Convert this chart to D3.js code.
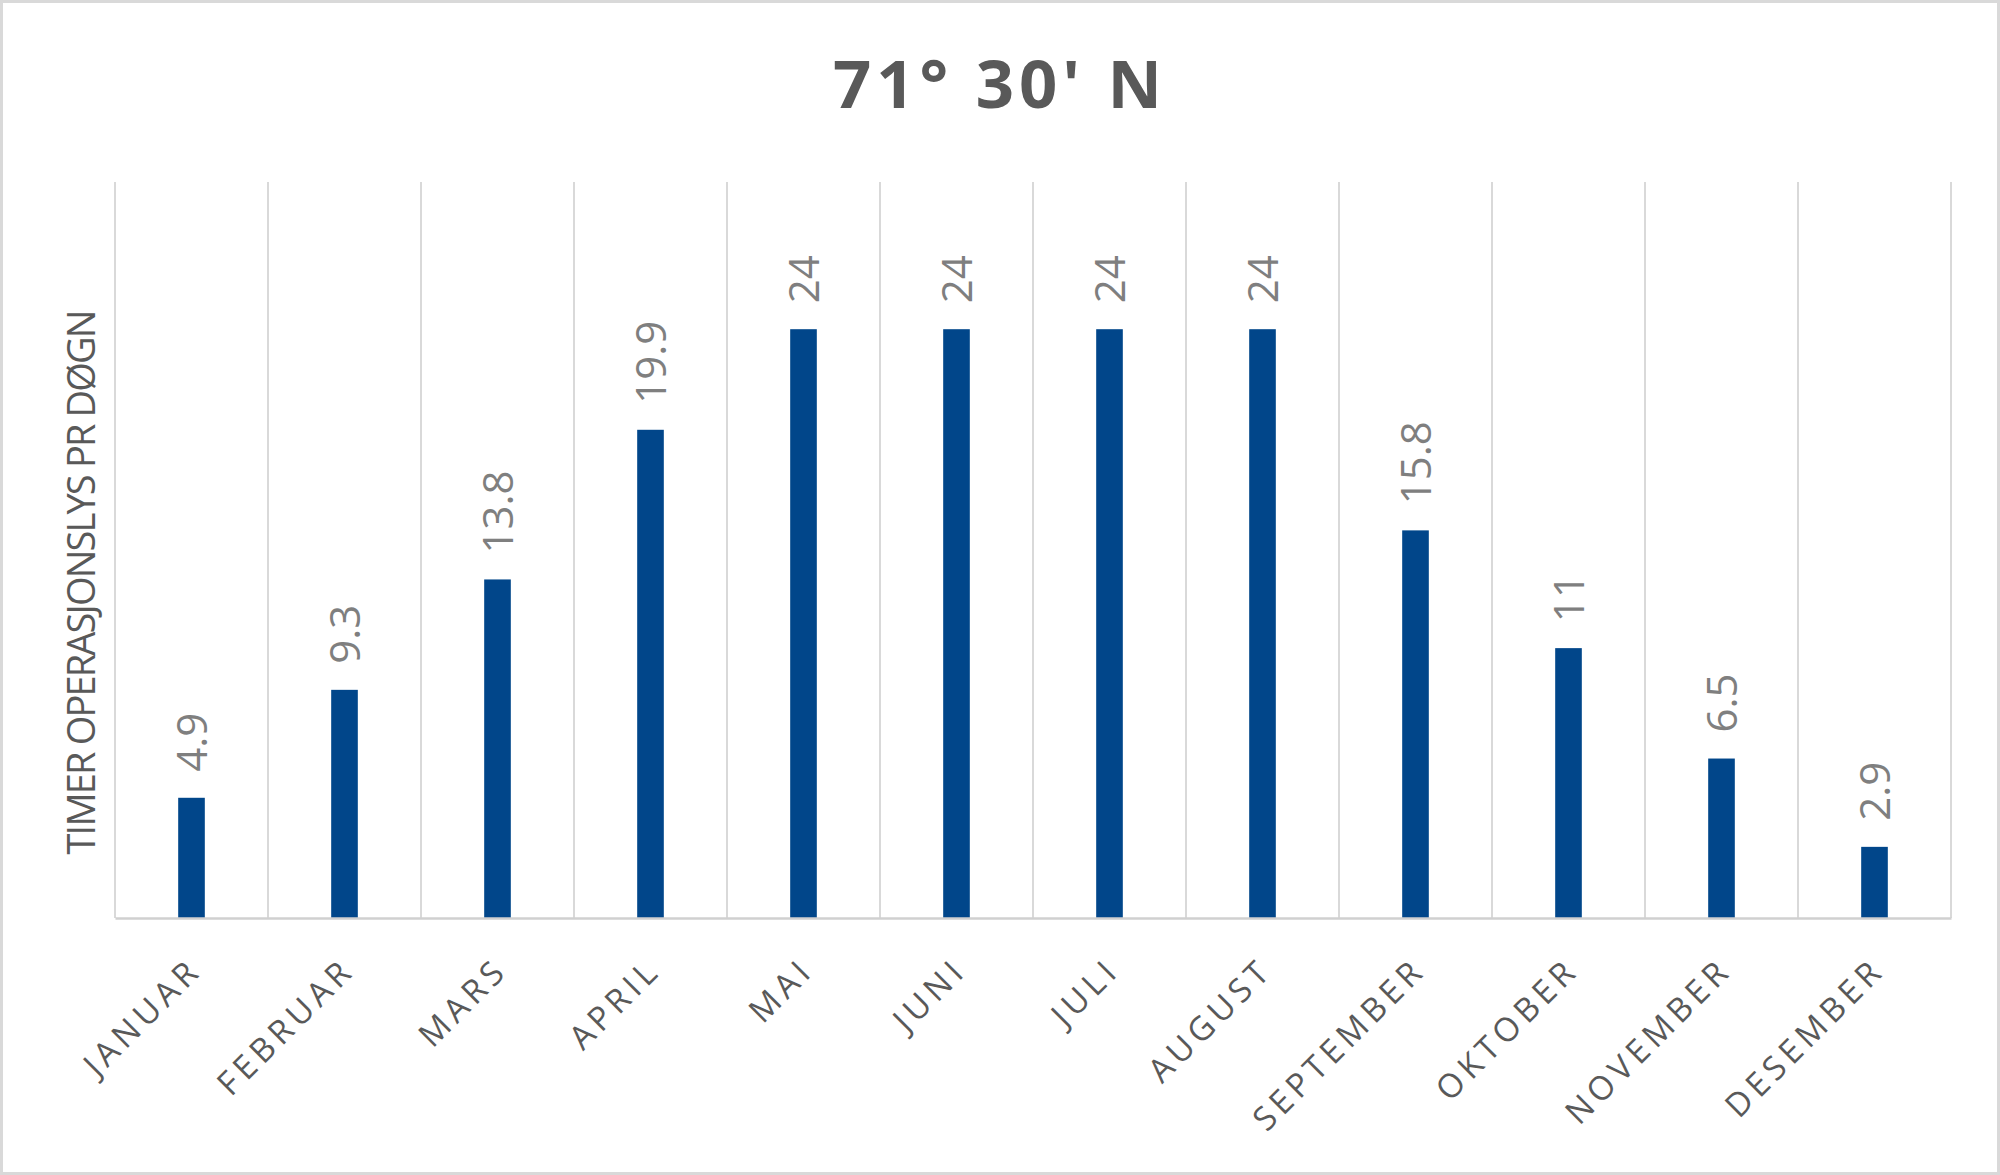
<!doctype html>
<html lang="no">
<head>
  <meta charset="utf-8">
  <title>71° 30' N</title>
  <script src="https://d3js.org/d3.v7.min.js"></script>
  <style>
    body { margin: 0; background: #fff; }
    text { font-family: 'Open Sans', sans-serif; }
  </style>
</head>
<body>
  <div id="my_chart"></div>
<script>
  var title = "71° 30' N";
  var y_title = 'TIMER OPERASJONSLYS PR DØGN';
  var months = ['JANUAR', 'FEBRUAR', 'MARS', 'APRIL', 'MAI', 'JUNI', 'JULI', 'AUGUST', 'SEPTEMBER', 'OKTOBER', 'NOVEMBER', 'DESEMBER'];
  var hours = [4.9, 9.3, 13.8, 19.9, 24, 24, 24, 24, 15.8, 11, 6.5, 2.9];
  var y_range = [0, 30];

  var width = 2000;
  var height = 1175;
  var margin = {top: 182, right: 49, bottom: 257, left: 115};
  var plot_w = width - margin.left - margin.right;
  var plot_h = height - margin.top - margin.bottom;
  var grid_color = '#d9d9d9';

  // one cell per month, bars are a thin band centred in each cell
  var x_cell = d3.scaleBand()
    .domain(months)
    .range([0, plot_w]);
  var x_bar = d3.scaleBand()
    .domain(months)
    .range([0, plot_w])
    .paddingInner(0.826)
    .paddingOuter(0.413);
  var y = d3.scaleLinear()
    .domain(y_range)
    .range([plot_h, 0]);

  var chart = d3.select('#my_chart').append('svg')
    .attr('width', width)
    .attr('height', height);

  // outer frame
  chart.append('rect')
    .attr('x', 1.5)
    .attr('y', 1.5)
    .attr('width', width - 3)
    .attr('height', height - 3)
    .attr('fill', '#fff')
    .attr('stroke', grid_color)
    .attr('stroke-width', 3);

  chart.append('text')
    .attr('x', width / 2)
    .attr('y', 108)
    .attr('text-anchor', 'middle')
    .attr('fill', '#595959')
    .style('font-size', '67px')
    .style('font-weight', 'bold')
    .style('letter-spacing', '5px')
    .text(title);

  var plot = chart.append('g')
    .attr('transform', 'translate(' + margin.left + ',' + margin.top + ')');

  // vertical gridlines on the cell borders
  var edges = months.map((m) => x_cell(m)).concat([x_cell.range()[1]]);
  plot.append('g')
    .selectAll('line')
    .data(edges)
    .enter()
      .append('line')
        .attr('x1', (d) => d)
        .attr('x2', (d) => d)
        .attr('y1', y(y_range[1]))
        .attr('y2', y(0))
        .attr('stroke', grid_color)
        .attr('stroke-width', 2);

  // bars
  plot.append('g')
    .selectAll('rect')
    .data(hours)
    .enter()
      .append('rect')
        .attr('x', (d, i) => x_bar(months[i]))
        .attr('y', (d) => y(d))
        .attr('width', x_bar.bandwidth())
        .attr('height', (d) => y(0) - y(d))
        .attr('fill', '#01468a');

  // value labels, rotated
  plot.append('g')
    .selectAll('text')
    .data(hours)
    .enter()
      .append('text')
        .attr('transform', (d, i) => 'translate(' + (x_bar(months[i]) + x_bar.bandwidth() / 2) + ',' + (y(d) - 26) + ') rotate(-90)')
        .attr('dy', '0.36em')
        .attr('fill', '#7f7f7f')
        .style('font-size', '42px')
        .text((d) => d);

  // x axis
  var x_axis = plot.append('g')
    .attr('transform', 'translate(0,' + plot_h + ')')
    .call(d3.axisBottom(x_cell).tickSize(0).tickSizeOuter(0).tickPadding(0));
  x_axis.select('.domain')
    .attr('stroke', '#d0d0d0')
    .attr('stroke-width', 2.5);
  x_axis.selectAll('text')
    .attr('y', 0)
    .attr('dy', 0)
    .attr('transform', 'translate(12,54) rotate(-45)')
    .attr('text-anchor', 'end')
    .attr('fill', '#595959')
    .style('font-size', '33px')
    .style('letter-spacing', '5px');

  // y axis title
  chart.append('text')
    .attr('transform', 'translate(95,582) rotate(-90)')
    .attr('text-anchor', 'middle')
    .attr('fill', '#595959')
    .attr('textLength', 545)
    .attr('lengthAdjust', 'spacing')
    .style('font-size', '38px')
    .text(y_title);
</script>
</body>
</html>
